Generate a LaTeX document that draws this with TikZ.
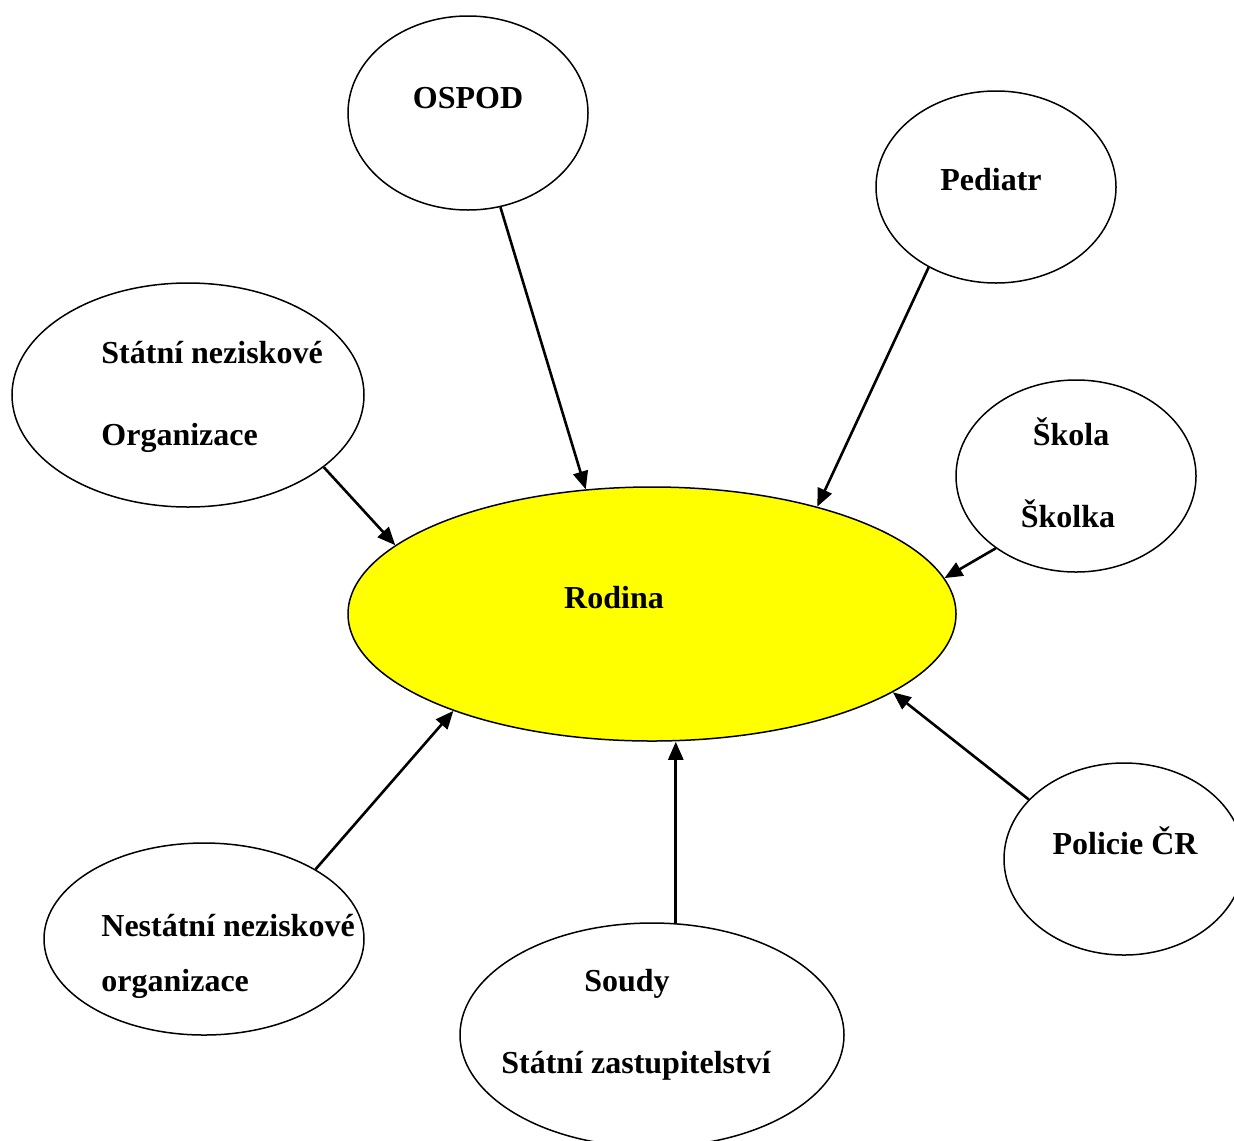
\documentclass[tikz,border=0pt]{standalone}
\usepackage{fontspec}
\setmainfont{Liberation Serif}
\usepackage{tikz}
\usetikzlibrary{arrows.meta,shapes.geometric}
\definecolor{rodinayellow}{RGB}{255,255,0}

\begin{document}
\begin{tikzpicture}[x=0.5pt, y=-0.5pt,
    ell/.style={ellipse, draw, line width=0.75pt, inner sep=0pt},
    lbl/.style={inner sep=0pt, font=\fontsize{16}{19}\selectfont\bfseries},
    arr/.style={-{Triangle[length=9pt, width=7.5pt]}, line width=1.3pt}]
    \useasboundingbox (0,0) rectangle (1234,1140);
    \node[ell, minimum width=120pt, minimum height=97pt] (ospod) at (468,113) {};
    \node[ell, minimum width=120pt, minimum height=96pt] (pediatr) at (996,187) {};
    \node[ell, minimum width=176pt, minimum height=112pt] (snno) at (188,395) {};
    \node[ell, minimum width=120pt, minimum height=96pt] (skola) at (1076,476) {};
    \node[ell, fill=rodinayellow, minimum width=304pt, minimum height=127pt] (rodina) at (652,614) {};
    \node[ell, minimum width=120pt, minimum height=96pt] (policie) at (1124,859) {};
    \node[ell, minimum width=160pt, minimum height=96pt] (nno) at (204,939) {};
    \node[ell, minimum width=192pt, minimum height=112pt] (soudy) at (652,1035) {};
    \node[lbl, anchor=base] (t-ospod) at (468,108) {OSPOD};
    \node[lbl, anchor=base] (t-pediatr) at (991,190) {Pediatr};
    \node[lbl, anchor=base west] (t-snno1) at (101,363) {Státní neziskové};
    \node[lbl, anchor=base west] (t-snno2) at (101,445) {Organizace};
    \node[lbl, anchor=base] (t-skola1) at (1071,445) {Škola};
    \node[lbl, anchor=base] (t-skola2) at (1068,527) {Školka};
    \node[lbl, anchor=base] (t-rodina) at (614,608) {Rodina};
    \node[lbl, anchor=base] (t-policie) at (1125,854) {Policie ČR};
    \node[lbl, anchor=base west] (t-nno1) at (101,936) {Nestátní neziskové};
    \node[lbl, anchor=base west] (t-nno2) at (101,991) {organizace};
    \node[lbl, anchor=base] (t-soudy1) at (627,991) {Soudy};
    \node[lbl, anchor=base] (t-soudy2) at (636,1073) {Státní zastupitelství};
    \draw[arr] (ospod.289) -- (rodina.118);
    \draw[arr] (pediatr.230) -- (rodina.33);
    \draw[arr] (snno.332) -- (rodina.165);
    \draw[arr] (skola.222) -- (rodina.7);
    \draw[arr] (policie.148) -- (rodina.342);
    \draw[arr] (nno.32) -- (rodina.206);
    \draw[arr] (soudy.78) -- (soudy.78 |- rodina.south);
\end{tikzpicture}
\end{document}
